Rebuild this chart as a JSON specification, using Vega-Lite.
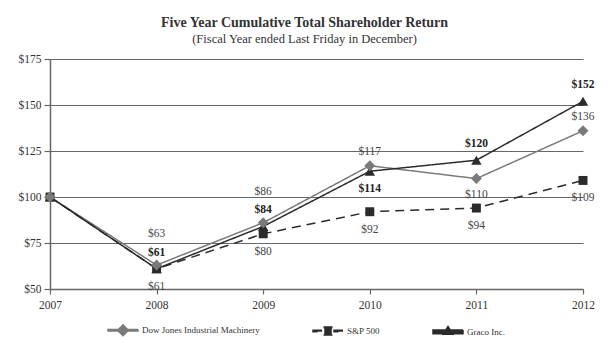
{
  "$schema": "https://vega.github.io/schema/vega-lite/v6.json",
  "width": 533,
  "height": 230,
  "autosize": {"type": "none"},
  "padding": {"left": 50, "top": 59, "right": 26, "bottom": 67},
  "background": "white",
  "title": {
    "text": "Five Year Cumulative Total Shareholder Return",
    "subtitle": "(Fiscal Year ended Last Friday in December)",
    "font": "Liberation Serif",
    "fontSize": 14,
    "fontWeight": "bold",
    "color": "#333",
    "subtitleFont": "Liberation Serif",
    "subtitleFontSize": 12.5,
    "subtitleColor": "#333",
    "subtitlePadding": 3,
    "anchor": "middle",
    "dx": -12,
    "offset": 8
  },
  "config": {
    "view": {"stroke": null},
    "axis": {
      "labelFont": "Liberation Serif",
      "labelFontSize": 11.5,
      "labelColor": "#333",
      "domainColor": "#666",
      "domainWidth": 1.5,
      "tickColor": "#666",
      "tickWidth": 1.2,
      "tickSize": 6,
      "gridColor": "#666",
      "gridWidth": 1,
      "title": null
    }
  },
  "data": {
    "values": [
      {"year": 2007, "series": "Dow Jones Industrial Machinery", "value": 100},
      {"year": 2008, "series": "Dow Jones Industrial Machinery", "value": 63},
      {"year": 2009, "series": "Dow Jones Industrial Machinery", "value": 86},
      {"year": 2010, "series": "Dow Jones Industrial Machinery", "value": 117},
      {"year": 2011, "series": "Dow Jones Industrial Machinery", "value": 110},
      {"year": 2012, "series": "Dow Jones Industrial Machinery", "value": 136},
      {"year": 2007, "series": "S&P 500", "value": 100},
      {"year": 2008, "series": "S&P 500", "value": 61},
      {"year": 2009, "series": "S&P 500", "value": 80},
      {"year": 2010, "series": "S&P 500", "value": 92},
      {"year": 2011, "series": "S&P 500", "value": 94},
      {"year": 2012, "series": "S&P 500", "value": 109},
      {"year": 2007, "series": "Graco Inc.", "value": 100},
      {"year": 2008, "series": "Graco Inc.", "value": 61},
      {"year": 2009, "series": "Graco Inc.", "value": 84},
      {"year": 2010, "series": "Graco Inc.", "value": 114},
      {"year": 2011, "series": "Graco Inc.", "value": 120},
      {"year": 2012, "series": "Graco Inc.", "value": 152}
    ]
  },
  "encoding": {
    "x": {
      "field": "year",
      "type": "ordinal",
      "scale": {"type": "point", "padding": 0},
      "axis": {"labelAngle": 0, "labelPadding": 5, "tickSize": 5}
    },
    "y": {
      "field": "value",
      "type": "quantitative",
      "scale": {"domain": [50, 175], "nice": false, "zero": false},
      "axis": {"values": [50, 75, 100, 125, 150, 175], "labelExpr": "'$' + datum.value", "labelPadding": 3, "grid": true}
    }
  },
  "layer": [
    {
      "mark": {"type": "line"},
      "encoding": {
        "color": {
          "field": "series",
          "type": "nominal",
          "sort": ["Dow Jones Industrial Machinery", "S&P 500", "Graco Inc."],
          "scale": {"domain": ["Dow Jones Industrial Machinery", "S&P 500", "Graco Inc."], "range": ["#7a7a7a", "#2b2b2b", "#2b2b2b"]},
          "legend": {
            "orient": "none",
            "direction": "horizontal",
            "legendX": 57,
            "legendY": 255,
            "title": null,
            "padding": 0,
            "symbolSize": 900,
            "labelFont": "Liberation Serif",
            "labelFontSize": 9,
            "labelColor": "#333",
            "labelOffset": 3,
            "columnPadding": 50,
            "labelLimit": 300,
            "encode": {
              "symbols": {
                "update": {
                  "shape": {"signal": "datum.value == 'Dow Jones Industrial Machinery' ? 'M-1,-0.05L1,-0.05L1,0.05L-1,0.05ZM0,-0.36L0.36,0L0,0.36L-0.36,0Z' : datum.value == 'S&P 500' ? 'M-1,-0.05L-0.4,-0.05L-0.4,0.05L-1,0.05ZM0.4,-0.05L1,-0.05L1,0.05L0.4,0.05ZM-0.25,-0.27L0.25,-0.27L0.25,0.27L-0.25,0.27Z' : 'M-1,-0.12L1,-0.12L1,0.12L-1,0.12ZM0,-0.36L0.32,0.15L-0.32,0.15Z'"},
                  "size": {"value": 900},
                  "fill": {"signal": "datum.value == 'Dow Jones Industrial Machinery' ? '#7a7a7a' : '#2b2b2b'"},
                  "fillOpacity": {"value": 1},
                  "stroke": {"value": "transparent"},
                  "strokeWidth": {"value": 0},
                  "opacity": {"value": 1}
                }
              }
            }
          }
        },
        "strokeDash": {
          "field": "series",
          "type": "nominal",
          "scale": {"domain": ["Dow Jones Industrial Machinery", "S&P 500", "Graco Inc."], "range": [[1, 0], [9, 6], [1, 0]]},
          "legend": null
        },
        "strokeWidth": {
          "field": "series",
          "type": "nominal",
          "scale": {"domain": ["Dow Jones Industrial Machinery", "S&P 500", "Graco Inc."], "range": [1.5, 1.5, 3.2]},
          "legend": null
        },
        "order": {"field": "year", "type": "quantitative"}
      }
    },
    {
      "transform": [{"filter": "datum.series == 'S&P 500'"}],
      "mark": {"type": "point", "filled": true, "opacity": 1, "shape": "square", "size": 80, "color": "#2b2b2b"}
    },
    {
      "transform": [{"filter": "datum.series == 'Graco Inc.'"}],
      "mark": {"type": "point", "filled": true, "opacity": 1, "shape": "triangle-up", "size": 110, "color": "#2b2b2b"}
    },
    {
      "transform": [{"filter": "datum.series == 'Dow Jones Industrial Machinery'"}],
      "mark": {"type": "point", "filled": true, "opacity": 1, "shape": "diamond", "size": 120, "color": "#7a7a7a"}
    },
    {
      "transform": [{"filter": "datum.series == 'Dow Jones Industrial Machinery' && (datum.year == 2008 || datum.year == 2009)"}],
      "mark": {"type": "text", "dy": -31, "font": "Liberation Serif", "fontSize": 11.5, "color": "#444"},
      "encoding": {"text": {"field": "value", "type": "quantitative", "format": "$d"}}
    },
    {
      "transform": [{"filter": "datum.series == 'Dow Jones Industrial Machinery' && (datum.year == 2010 || datum.year == 2012)"}],
      "mark": {"type": "text", "dy": -14, "font": "Liberation Serif", "fontSize": 11.5, "color": "#444"},
      "encoding": {"text": {"field": "value", "type": "quantitative", "format": "$d"}}
    },
    {
      "transform": [{"filter": "datum.series == 'Dow Jones Industrial Machinery' && datum.year == 2011"}],
      "mark": {"type": "text", "dy": 16, "font": "Liberation Serif", "fontSize": 11.5, "color": "#444"},
      "encoding": {"text": {"field": "value", "type": "quantitative", "format": "$d"}}
    },
    {
      "transform": [{"filter": "datum.series == 'S&P 500' && datum.year > 2007"}],
      "mark": {"type": "text", "dy": 18, "font": "Liberation Serif", "fontSize": 11.5, "color": "#444"},
      "encoding": {"text": {"field": "value", "type": "quantitative", "format": "$d"}}
    },
    {
      "transform": [{"filter": "datum.series == 'Graco Inc.' && datum.year > 2007 && datum.year != 2010"}],
      "mark": {"type": "text", "dy": -16, "font": "Liberation Serif", "fontSize": 11.5, "fontWeight": "bold", "color": "#222"},
      "encoding": {"text": {"field": "value", "type": "quantitative", "format": "$d"}}
    },
    {
      "transform": [{"filter": "datum.series == 'Graco Inc.' && datum.year == 2010"}],
      "mark": {"type": "text", "dy": 18, "font": "Liberation Serif", "fontSize": 11.5, "fontWeight": "bold", "color": "#222"},
      "encoding": {"text": {"field": "value", "type": "quantitative", "format": "$d"}}
    }
  ]
}
